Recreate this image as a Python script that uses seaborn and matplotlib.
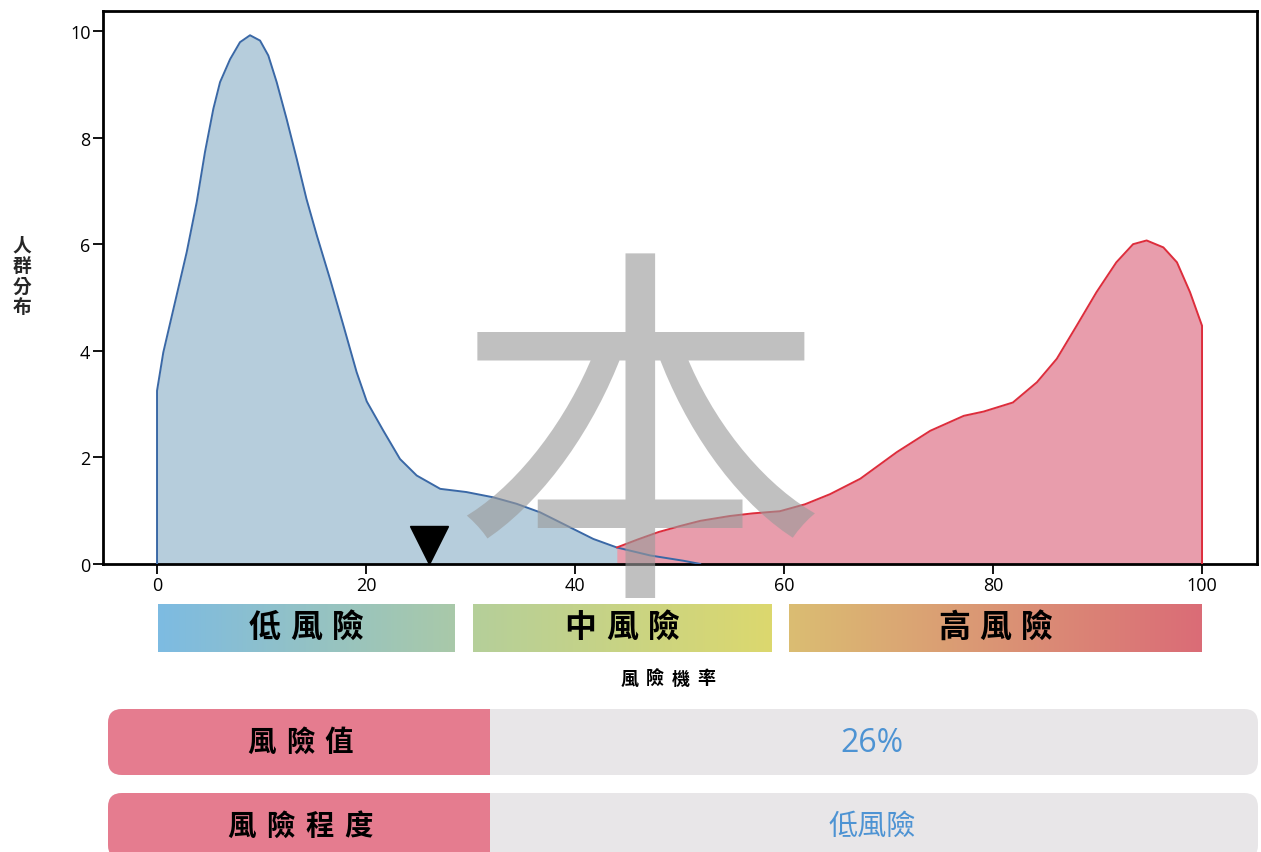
import numpy as np
import pandas as pd
import matplotlib
matplotlib.use("Agg")
import matplotlib.pyplot as plt
import matplotlib.transforms as mtrans
from matplotlib.patches import FancyBboxPatch, Rectangle
from matplotlib.colors import LinearSegmentedColormap
import seaborn as sns

# ---------------- data ----------------
low_x = [0, 0, 0.6, 1.72, 2.84, 3.8, 4.59, 5.39, 6.03, 6.99, 7.94, 8.9, 9.86, 10.65,
         11.45, 12.4, 13.37, 14.3, 15.3, 16.55, 17.8, 19.1, 20.07, 21.66, 23.25,
         24.85, 27.1, 29.6, 32.2, 34.4, 36.65, 39.2, 41.75, 44.0, 47.2, 50.4, 52.0]
low_y = [0, 3.25, 3.97, 4.91, 5.85, 6.79, 7.73, 8.54, 9.04, 9.47, 9.79, 9.92, 9.82, 9.54,
         9.04, 8.35, 7.6, 6.85, 6.16, 5.35, 4.5, 3.6, 3.05, 2.5, 1.97,
         1.66, 1.41, 1.35, 1.25, 1.13, 0.97, 0.72, 0.47, 0.31, 0.16, 0.06, 0.0]

high_x = [44.0, 46.0, 48.0, 50.0, 52.0, 54.8, 57.0, 59.6, 62.0, 64.4, 67.3, 70.8,
          74.0, 77.2, 79.1, 81.9, 84.2, 86.1, 88.0, 89.9, 91.8, 93.4, 94.7, 96.3,
          97.6, 98.85, 100.0, 100.0]
high_y = [0.31, 0.46, 0.6, 0.71, 0.81, 0.9, 0.95, 0.99, 1.12, 1.31, 1.6, 2.1,
          2.5, 2.78, 2.86, 3.03, 3.41, 3.85, 4.47, 5.1, 5.66, 6.0, 6.07, 5.94,
          5.66, 5.1, 4.47, 0.0]

x_ticks = [0, 20, 40, 60, 80, 100]
y_ticks = [0, 2, 4, 6, 8, 10]

band_names = ["低風險", "中風險", "高風險"]
band_start = [0.1, 30.2, 60.5]
band_end = [28.5, 58.8, 100.0]
band_colors = [("#7dbbe2", "#a9c9a9"), ("#b5cf9a", "#dcd86e"), ("#dbbd72", "#da6c77")]

risk_value = 26
table_labels = ["風險值", "風險程度"]
table_values = ["26%", "低風險"]

x_label = "風險機率"
y_label = "人群分布"

# ---------------- style ----------------
sns.set_theme(style="white")
plt.rcParams["font.family"] = ["Noto Sans CJK TC", "DejaVu Sans"]

W, H = 1261, 853
fig = plt.figure(figsize=(W / 100, H / 100), dpi=100)

def fx(px):
    return px / W

def fy(py):
    return 1 - py / H

# full-figure pixel axes (background elements)
tax = fig.add_axes([0, 0, 1, 1], zorder=-1)
tax.set_xlim(0, W)
tax.set_ylim(H, 0)
tax.axis("off")

# main axes
ax = fig.add_axes([fx(103), fy(565), fx(1257) - fx(103), fy(12) - fy(565)])
ax.set_xlim(-5.17, 105.26)
ax.set_ylim(0, 10.375)

low_df = pd.DataFrame({"x": low_x, "y": low_y})
high_df = pd.DataFrame({"x": high_x, "y": high_y})

ax.fill_between(low_x, low_y, 0, color="#b6cddc", lw=0, zorder=1)
ax.fill_between(high_x, high_y, 0, color="#e89dac", lw=0, zorder=2)
sns.lineplot(data=low_df, x="x", y="y", sort=False, color="#3a68a6", lw=1.4,
             ax=ax, zorder=3, estimator=None)
sns.lineplot(data=high_df, x="x", y="y", sort=False, color="#dd2d3c", lw=1.4,
             ax=ax, zorder=4, estimator=None)
for ln in ax.lines:
    ln.set_solid_joinstyle("round")

# marker: tip touching y=0
tr = mtrans.offset_copy(ax.transData, fig=fig, y=13.7, units="points")
ax.plot([risk_value], [0], marker="v", markersize=27, color="black",
        transform=tr, zorder=6, clip_on=False, linestyle="none")

ax.set_xticks(x_ticks)
ax.set_yticks(y_ticks)
ax.set_xticklabels([str(t) for t in x_ticks], family=["Open Sans", "DejaVu Sans"], fontsize=13)
ax.set_yticklabels([str(t) for t in y_ticks], family=["Open Sans", "DejaVu Sans"], fontsize=13)
ax.tick_params(axis="both", direction="out", length=7, width=1.3, color="black",
               labelcolor="black", pad=2, bottom=True, left=True)
for s in ax.spines.values():
    s.set_color("black")
    s.set_linewidth(2.0)
ax.set_xlabel("")
ax.set_ylabel("")

# risk bands
bax = fig.add_axes([fx(103), fy(653), fx(1257) - fx(103), fy(605) - fy(653)])
bax.set_xlim(ax.get_xlim())
bax.set_ylim(0, 1)
bax.axis("off")
grad = np.linspace(0, 1, 256).reshape(1, -1)

def spaced_text(axis, cx, cy, text, size, pitch, color="black", weight="bold"):
    n = len(text)
    for i, ch in enumerate(text):
        off = (i - (n - 1) / 2) * pitch
        axis.annotate(ch, xy=(cx, cy), xycoords="data", xytext=(off, 0),
                      textcoords="offset points", ha="center", va="center",
                      fontsize=size, fontweight=weight, color=color)

for name, x0, x1, (c0, c1) in zip(band_names, band_start, band_end, band_colors):
    cmap = LinearSegmentedColormap.from_list(name, [c0, c1])
    bax.imshow(grad, cmap=cmap, extent=[x0, x1, 0, 1], aspect="auto")
    spaced_text(bax, (x0 + x1) / 2, 0.52, name, 23, 30)

# axis labels
spaced_text(tax, 668, 679, x_label, 13, 18.5)
tax.text(22, 277, "\n".join(y_label), ha="center", va="center",
         fontsize=13.5, fontweight="bold", linespacing=1.1)

# bottom table
rows_top = [710, 794]
row_h = 66
for i, (lab, val) in enumerate(zip(table_labels, table_values)):
    top = rows_top[i]
    tax.add_patch(FancyBboxPatch((108, top), 1258 - 108, row_h,
                                 boxstyle="round,pad=0,rounding_size=14",
                                 fc="#e8e6e8", ec="none"))
    tax.add_patch(FancyBboxPatch((108, top), 430 - 108, row_h,
                                 boxstyle="round,pad=0,rounding_size=14",
                                 fc="#e57c8f", ec="none"))
    tax.add_patch(Rectangle((400, top), 90, row_h, fc="#e57c8f", ec="none"))
    spaced_text(tax, 300, top + row_h / 2, lab, 20.5, 28)
    tax.text(872, top + row_h / 2, val, ha="center", va="center",
             fontsize=23 if i == 0 else 21, color="#4d93d3",
             family=["Open Sans", "Noto Sans CJK TC", "DejaVu Sans"] if i == 0
             else ["Noto Sans CJK TC", "DejaVu Sans"])

# watermark
fig.text(fx(640), fy(462), "本", ha="center", va="center", fontsize=270,
         color="#9a9a9a", alpha=0.62, zorder=20)

fig.savefig("out.png", dpi=100)
